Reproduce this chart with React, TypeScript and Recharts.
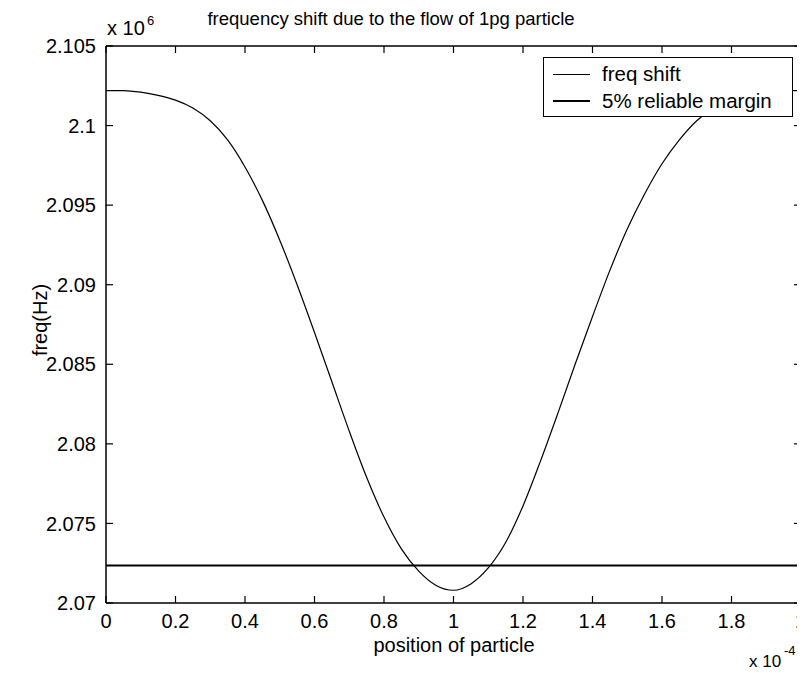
import React from "react";
import {
  LineChart,
  Line,
  XAxis,
  YAxis,
  Legend,
} from "recharts";

// position of particle (x 1e-4) and frequency (x 1e6 Hz)
const positions = [
  0, 0.05, 0.1, 0.15, 0.2, 0.25, 0.3, 0.35, 0.4, 0.45, 0.5, 0.55, 0.6, 0.65,
  0.7, 0.75, 0.8, 0.85, 0.9, 0.95, 1.0, 1.05, 1.1, 1.15, 1.2, 1.25, 1.3, 1.35,
  1.4, 1.45, 1.5, 1.55, 1.6, 1.65, 1.7, 1.75, 1.8, 1.85, 1.9, 1.95, 2.0,
];
const freqShift = [
  2.1022, 2.1022, 2.1021, 2.1019, 2.1016, 2.1011, 2.1003, 2.0991, 2.0974,
  2.0953, 2.0928, 2.09, 2.087, 2.0839, 2.0808, 2.0779, 2.0754, 2.0734,
  2.072, 2.0711, 2.0708, 2.0712, 2.0722, 2.0738, 2.0761, 2.0789, 2.0819,
  2.085, 2.088, 2.0909, 2.0935, 2.0957, 2.0976, 2.0991, 2.1003, 2.1011,
  2.1016, 2.1019, 2.1021, 2.1022, 2.1022,
];
const marginPositions = [0, 2];
const marginFreq = [2.07235, 2.07235];

const xTicks = [0, 0.2, 0.4, 0.6, 0.8, 1, 1.2, 1.4, 1.6, 1.8, 2];
const yTicks = [2.07, 2.075, 2.08, 2.085, 2.09, 2.095, 2.1, 2.105];

const FONT = '"Liberation Sans", Arial, sans-serif';
const TICK_LEN = 7;
const X_GAP = 11;
const Y_GAP = 10;

const curveData = positions.map((x, i) => ({ x, freq: freqShift[i] }));
const marginData = marginPositions.map((x, i) => ({ x, margin: marginFreq[i] }));

const legendItems = [
  { name: "freq shift", width: 1.2 },
  { name: "5% reliable margin", width: 2 },
];

// matlab style ticks pointing into the plot box
function BottomTick(props: any) {
  const { x, y, payload } = props;
  const axisY = y - X_GAP;
  const v = payload.value as number;
  return (
    <g>
      <line x1={x} y1={axisY} x2={x} y2={axisY - TICK_LEN} stroke="#000" strokeWidth={1.2} />
      <text x={x} y={y} dy="0.71em" textAnchor="middle" fontSize={20} fontFamily={FONT} fill="#000">
        {String(Number(v.toFixed(1)))}
      </text>
    </g>
  );
}

function LeftTick(props: any) {
  const { x, y, payload } = props;
  const axisX = x + Y_GAP;
  const v = payload.value as number;
  return (
    <g>
      <line x1={axisX} y1={y} x2={axisX + TICK_LEN} y2={y} stroke="#000" strokeWidth={1.2} />
      <text x={x} y={y} dy="0.355em" textAnchor="end" fontSize={20} fontFamily={FONT} fill="#000">
        {String(Number(v.toFixed(3)))}
      </text>
    </g>
  );
}

function TopTick(props: any) {
  const { x, y } = props;
  return <line x1={x} y1={y} x2={x} y2={y + TICK_LEN} stroke="#000" strokeWidth={1.2} />;
}

function RightTick(props: any) {
  const { x, y } = props;
  return <line x1={x} y1={y} x2={x - TICK_LEN} y2={y} stroke="#000" strokeWidth={1.2} />;
}

function LegendBox() {
  return (
    <div
      style={{
        width: 250,
        height: 60,
        border: "1.5px solid #000",
        background: "#fff",
        fontFamily: FONT,
        fontSize: 20.5,
        color: "#000",
        boxSizing: "border-box",
        paddingTop: 3,
      }}
    >
      {legendItems.map((it) => (
        <div
          key={it.name}
          style={{ display: "flex", alignItems: "center", height: 26.5 }}
        >
          <div
            style={{
              marginLeft: 9,
              width: 37,
              height: 0,
              borderTop: `${it.width}px solid #000`,
            }}
          />
          <span style={{ marginLeft: 12, lineHeight: "26px" }}>{it.name}</span>
        </div>
      ))}
    </div>
  );
}

export default function App() {
  return (
    <div style={{ position: "relative", width: 797, height: 665, fontFamily: FONT }}>
      <LineChart
        width={797}
        height={665}
        margin={{ top: 28, right: 0, bottom: 40, left: 0 }}
      >
        <XAxis
          xAxisId="b"
          dataKey="x"
          type="number"
          domain={[0, 2]}
          allowDataOverflow
          ticks={xTicks}
          height={30}
          tickSize={0}
          tickMargin={X_GAP}
          tickLine={false}
          tick={(p: any) => <BottomTick {...p} />}
          stroke="#000"
          strokeWidth={1.5}
        />
        <XAxis
          xAxisId="t"
          orientation="top"
          dataKey="x"
          type="number"
          domain={[0, 2]}
          allowDataOverflow
          ticks={xTicks}
          height={10}
          tickSize={0}
          tickMargin={0}
          tickLine={false}
          tick={(p: any) => <TopTick {...p} />}
          stroke="#000"
          strokeWidth={1.5}
        />
        <YAxis
          yAxisId="l"
          type="number"
          domain={[2.07, 2.105]}
          allowDataOverflow
          ticks={yTicks}
          width={98}
          tickSize={0}
          tickMargin={Y_GAP}
          tickLine={false}
          tick={(p: any) => <LeftTick {...p} />}
          stroke="#000"
          strokeWidth={1.5}
        />
        <YAxis
          yAxisId="r"
          orientation="right"
          type="number"
          domain={[2.07, 2.105]}
          allowDataOverflow
          ticks={yTicks}
          width={4}
          tickSize={0}
          tickMargin={0}
          tickLine={false}
          tick={(p: any) => <RightTick {...p} />}
          stroke="#000"
          strokeWidth={1.5}
        />
        <Line
          xAxisId="b"
          yAxisId="l"
          data={curveData}
          dataKey="freq"
          name="freq shift"
          type="monotone"
          stroke="#000"
          strokeWidth={1.2}
          dot={false}
          isAnimationActive={false}
        />
        <Line
          xAxisId="t"
          yAxisId="r"
          data={marginData}
          dataKey="margin"
          name="5% reliable margin"
          type="linear"
          stroke="#000"
          strokeWidth={2}
          dot={false}
          isAnimationActive={false}
        />
        <Legend
          layout="vertical"
          align="center"
          verticalAlign="middle"
          content={() => <LegendBox />}
          wrapperStyle={{ left: 535, top: 49, width: 250, height: 60 }}
        />
      </LineChart>
      <svg
        width={797}
        height={665}
        style={{ position: "absolute", left: 0, top: 0, pointerEvents: "none" }}
        fontFamily={FONT}
        fill="#000"
      >
        <text x={383} y={17} fontSize={18.5} textAnchor="middle">
          frequency shift due to the flow of 1pg particle
        </text>
        <text x={99} y={27} fontSize={20}>x 10</text>
        <text x={139} y={17} fontSize={13}>6</text>
        <text
          x={32}
          y={312}
          fontSize={20}
          textAnchor="middle"
          dominantBaseline="central"
          transform="rotate(-90 32 312)"
        >
          freq(Hz)
        </text>
        <text x={446} y={644} fontSize={20} textAnchor="middle">
          position of particle
        </text>
        <text x={741} y={659} fontSize={17}>x 10</text>
        <text x={776} y={647} fontSize={13}>-4</text>
      </svg>
    </div>
  );
}
